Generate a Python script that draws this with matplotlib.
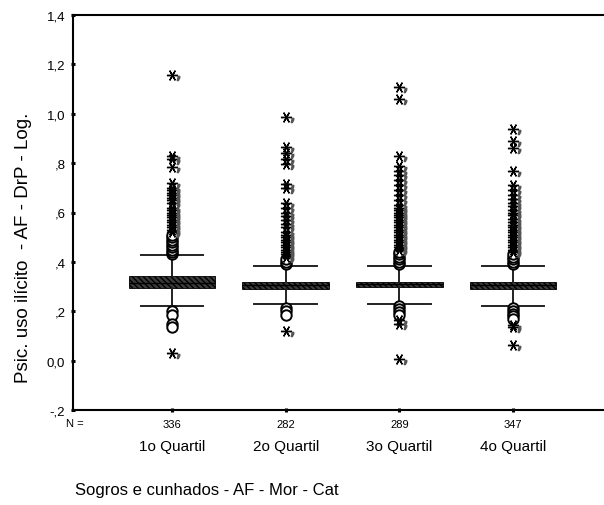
import matplotlib
matplotlib.use("Agg")
import matplotlib.pyplot as plt
from matplotlib.transforms import offset_copy

plt.rcParams["font.family"] = ["Liberation Sans", "DejaVu Sans"]

# categories and counts
groups = ["1o Quartil", "2o Quartil", "3o Quartil", "4o Quartil"]
n_cases = ["336", "282", "289", "347"]

# box statistics
q1 = [0.293, 0.290, 0.297, 0.290]
med = [0.315, 0.305, 0.310, 0.305]
q3 = [0.341, 0.320, 0.320, 0.320]
whislo = [0.222, 0.228, 0.228, 0.222]
whishi = [0.427, 0.384, 0.385, 0.383]

# outliers (circles) and extremes (asterisks)
outliers = [
    [0.43, 0.44, 0.45, 0.46, 0.47, 0.48, 0.49, 0.50, 0.51, 0.20, 0.185, 0.15, 0.135],
    [0.39, 0.40, 0.41, 0.215, 0.20, 0.185],
    [0.39, 0.40, 0.41, 0.42, 0.43, 0.44, 0.22, 0.21, 0.195, 0.185],
    [0.39, 0.40, 0.41, 0.42, 0.43, 0.215, 0.20, 0.19, 0.18, 0.17],
]
extremes = [
    [1.155, 0.83, 0.815, 0.785, 0.72, 0.70, 0.69, 0.68, 0.67, 0.66, 0.65, 0.64,
     0.62, 0.61, 0.60, 0.59, 0.58, 0.57, 0.56, 0.55, 0.54, 0.53, 0.52, 0.03],
    [0.985, 0.865, 0.84, 0.815, 0.795, 0.715, 0.70, 0.64, 0.62, 0.60, 0.585,
     0.57, 0.555, 0.54, 0.52, 0.51, 0.50, 0.49, 0.48, 0.47, 0.46, 0.45, 0.44,
     0.43, 0.42, 0.12],
    [1.11, 1.06, 0.83, 0.79, 0.77, 0.75, 0.73, 0.71, 0.69, 0.67, 0.65, 0.63,
     0.62, 0.61, 0.60, 0.59, 0.58, 0.57, 0.56, 0.55, 0.54, 0.53, 0.52, 0.51,
     0.50, 0.49, 0.48, 0.47, 0.46, 0.45, 0.165, 0.15, 0.005],
    [0.94, 0.89, 0.86, 0.77, 0.71, 0.69, 0.67, 0.655, 0.64, 0.625, 0.61, 0.60,
     0.59, 0.575, 0.56, 0.55, 0.54, 0.53, 0.52, 0.51, 0.50, 0.49, 0.48, 0.47,
     0.46, 0.45, 0.44, 0.145, 0.135, 0.065],
]

yticks = [-0.2, 0.0, 0.2, 0.4, 0.6, 0.8, 1.0, 1.2, 1.4]
ytick_labels = ["-,2", "0,0", ",2", ",4", ",6", ",8", "1,0", "1,2", "1,4"]

W, H = 604, 506
fig = plt.figure(figsize=(W / 100, H / 100), dpi=100)
ax = fig.add_axes([73 / W, 1 - 411 / H, 1 - 73 / W, (411 - 16) / H])

positions = list(range(1, len(groups) + 1))
stats = []
for i in range(len(groups)):
    stats.append(dict(med=med[i], q1=q1[i], q3=q3[i],
                      whislo=whislo[i], whishi=whishi[i], fliers=[]))

ax.bxp(stats, positions=positions, widths=0.76, patch_artist=True,
       showfliers=False,
       boxprops=dict(facecolor="#3c3c3c", edgecolor="black",
                     hatch="\\\\\\\\\\\\", linewidth=0.6),
       whiskerprops=dict(color="#222222", linewidth=1.4),
       capprops=dict(color="#222222", linewidth=1.4),
       medianprops=dict(color="black", linewidth=1.0),
       capwidths=0.55)

asterisk = (6, 2, 30)
comma_tr = offset_copy(ax.transData, fig=fig, x=6, y=-3, units="dots")
for i, p in enumerate(positions):
    ax.plot([p] * len(outliers[i]), outliers[i], linestyle="none", marker="o",
            markersize=7.5, markerfacecolor="white", markeredgecolor="black",
            markeredgewidth=1.4)
    ax.plot([p] * len(extremes[i]), extremes[i], linestyle="none",
            marker=asterisk, markersize=8, markeredgecolor="black",
            markeredgewidth=1.0)
    ax.plot([p] * len(extremes[i]), extremes[i], linestyle="none",
            marker="$,$", markersize=3, color="#555555", transform=comma_tr)

ax.set_xlim(0.13, 4.8)
ax.set_ylim(-0.2, 1.4)

ax.set_yticks(yticks)
ax.set_yticklabels(ytick_labels, fontsize=9.5)
ax.set_xticks(positions)
ax.set_xticklabels(n_cases, fontsize=8)
ax.tick_params(axis="both", direction="inout", length=3, width=2.2, pad=4)
ax.tick_params(axis="x", pad=5)

ax.spines["right"].set_visible(False)
for s in ["left", "top", "bottom"]:
    ax.spines[s].set_linewidth(1.5)

fig.text(66 / W, 1 - 424 / H, "N =", fontsize=8, va="center", ha="left")
for p, g in zip(positions, groups):
    x_fig = fig.transFigure.inverted().transform(ax.transData.transform((p, 0)))[0]
    fig.text(x_fig, 1 - 447 / H, g, fontsize=11, ha="center", va="center")

fig.text(24 / W, 1 - 248 / H, "Psic. uso ilícito  - AF - DrP - Log.",
         rotation=90, fontsize=13.5, ha="center", va="center")
fig.text(75 / W, 1 - 491 / H, "Sogros e cunhados - AF - Mor - Cat",
         fontsize=12, ha="left", va="center")

fig.savefig("out.png", dpi=100)
